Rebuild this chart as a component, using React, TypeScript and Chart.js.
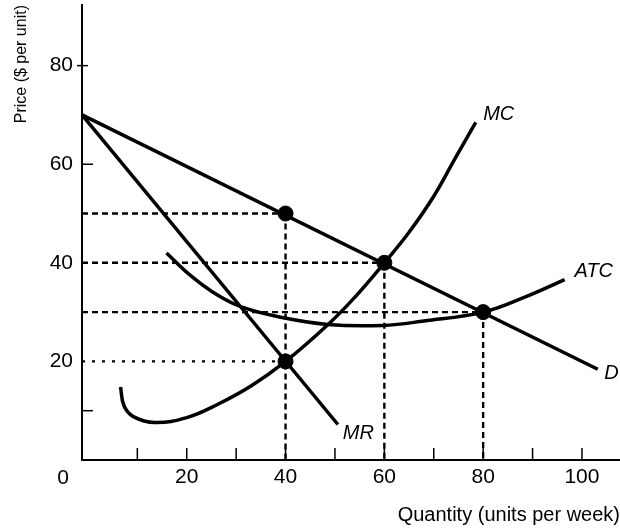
import React, { useEffect, useRef } from "react";
import { Chart, registerables } from "chart.js";

Chart.register(...registerables);

// ---- data ----
const demand = [
  { x: -1.2, y: 70 },
  { x: 103.2, y: 18.4 },
];
const marginalRevenue = [
  { x: -1.2, y: 70 },
  { x: 50.6, y: 7.2 },
];
const marginalCost = [
  { x: 6.6, y: 14.8 },
  { x: 7.3, y: 11 },
  { x: 9.2, y: 8.8 },
  { x: 13.6, y: 7.6 },
  { x: 20, y: 8.6 },
  { x: 26.3, y: 11.3 },
  { x: 33, y: 15 },
  { x: 40, y: 20 },
  { x: 48.5, y: 27.4 },
  { x: 54, y: 33 },
  { x: 60, y: 40 },
  { x: 65, y: 46.2 },
  { x: 70, y: 53.5 },
  { x: 74.5, y: 61.5 },
  { x: 78.5, y: 68.5 },
];
const averageTotalCost = [
  { x: 15.9, y: 42 },
  { x: 20.8, y: 37.4 },
  { x: 26.3, y: 33.4 },
  { x: 31.2, y: 31 },
  { x: 38.8, y: 29 },
  { x: 48.5, y: 27.5 },
  { x: 59.7, y: 27.3 },
  { x: 68, y: 28.2 },
  { x: 80, y: 30 },
  { x: 88.8, y: 33.2 },
  { x: 96.5, y: 36.6 },
];
const keyPoints = [
  { x: 40, y: 50 },
  { x: 60, y: 40 },
  { x: 80, y: 30 },
  { x: 40, y: 20 },
];
// dashed guides: horizontal from the price axis, vertical down to the quantity axis
const guidePrices = [50, 40, 30, 20];
const guideQuantities = [40, 60, 80, 40];
const verticalGuides = [
  { q: 40, p: 50 },
  { q: 60, p: 40 },
  { q: 80, p: 30 },
];

const xTickLabels = [20, 40, 60, 80, 100];
const yTickLabels = [20, 40, 60, 80];
const xTickMarks = [10, 20, 30, 40, 50, 60, 70, 80, 90, 100];
const yTickMarks = [10, 60];
const yCrossTicks = [80];

const curveLabels = [
  { text: "MC", x: 80, y: 70.2 },
  { text: "ATC", x: 98.5, y: 38.2 },
  { text: "MR", x: 51.6, y: 5.3 },
  { text: "D", x: 104.5, y: 17.6 },
];

const FONT = "'Liberation Sans', Arial, sans-serif";

const decorPlugin = {
  id: "decor",
  afterDraw(chart: any) {
    const { ctx } = chart;
    const xs = chart.scales.x;
    const ys = chart.scales.y;
    const axisX = xs.left;
    ctx.save();
    ctx.strokeStyle = "#000";
    ctx.lineWidth = 1.5;
    // x tick marks pointing up
    xTickMarks.forEach((v) => {
      const px = xs.getPixelForValue(v);
      ctx.beginPath();
      ctx.moveTo(px, xs.top);
      ctx.lineTo(px, xs.top - 12);
      ctx.stroke();
    });
    // y tick marks pointing right
    yTickMarks.forEach((v) => {
      const py = ys.getPixelForValue(v);
      ctx.beginPath();
      ctx.moveTo(axisX, py);
      ctx.lineTo(axisX + 11, py);
      ctx.stroke();
    });
    yCrossTicks.forEach((v) => {
      const py = ys.getPixelForValue(v);
      ctx.beginPath();
      ctx.moveTo(axisX - 5, py);
      ctx.lineTo(axisX + 6, py);
      ctx.stroke();
    });
    // origin label
    ctx.fillStyle = "#000";
    ctx.font = `21px ${FONT}`;
    ctx.textAlign = "center";
    ctx.textBaseline = "middle";
    ctx.fillText("0", axisX - 19, xs.top + 18);
    // curve labels
    ctx.font = `italic 20px ${FONT}`;
    ctx.textAlign = "left";
    curveLabels.forEach((l) => {
      ctx.fillText(l.text, xs.getPixelForValue(l.x), ys.getPixelForValue(l.y));
    });
    ctx.restore();
  },
};

export default function App() {
  const ref = useRef<HTMLCanvasElement | null>(null);

  useEffect(() => {
    if (!ref.current) return;
    const curve = (data: any[], tension: number) => ({
      type: "line" as const,
      data,
      borderColor: "#000",
      borderWidth: 3.5,
      pointRadius: 0,
      tension,
      fill: false,
      clip: false as any,
      order: 2,
    });
    const horizontalGuides = guidePrices.map((p, i) => ({
      type: "line" as const,
      data: [
        { x: -1.2, y: p },
        { x: guideQuantities[i], y: p },
      ],
      borderColor: "#000",
      borderWidth: 2.4,
      borderDash: p === 20 ? [3, 7] : [6, 4],
      pointRadius: 0,
      fill: false,
      order: 3,
    }));
    const vGuides = verticalGuides.map((g) => ({
      type: "line" as const,
      data: [
        { x: g.q, y: g.p },
        { x: g.q, y: 0 },
      ],
      borderColor: "#000",
      borderWidth: 2.4,
      borderDash: [6, 4],
      pointRadius: 0,
      fill: false,
      order: 3,
    }));

    const chart = new Chart(ref.current, {
      type: "line",
      data: {
        datasets: [
          {
            type: "scatter",
            data: keyPoints,
            backgroundColor: "#000",
            borderColor: "#000",
            pointRadius: 7.5,
            pointHoverRadius: 7.5,
            order: 1,
          } as any,
          curve(demand, 0),
          curve(marginalRevenue, 0),
          curve(marginalCost, 0.4),
          curve(averageTotalCost, 0.4),
          ...horizontalGuides,
          ...vGuides,
        ],
      },
      options: {
        animation: false,
        responsive: false,
        events: [],
        layout: { autoPadding: false, padding: { top: 5, right: 0, left: 0, bottom: 0 } },
        plugins: {
          legend: { display: false },
          tooltip: { enabled: false },
        },
        scales: {
          x: {
            type: "linear",
            min: -1.2,
            max: 107.7,
            afterFit: (s: any) => {
              s.height = 71;
              s.paddingLeft = 0;
              s.paddingRight = 0;
            },
            afterBuildTicks: (s: any) => {
              s.ticks = xTickLabels.map((v) => ({ value: v }));
            },
            grid: { display: false, drawTicks: false },
            border: { display: true, color: "#000", width: 2 },
            ticks: {
              color: "#000",
              font: { family: FONT, size: 21 },
              padding: 5,
              maxRotation: 0,
              autoSkip: false,
              callback: (v: any) => String(v),
            },
            title: {
              display: true,
              text: "Quantity (units per week)",
              align: "end",
              color: "#000",
              font: { family: FONT, size: 20 },
              padding: { top: 0, bottom: 4 },
            },
          },
          y: {
            type: "linear",
            min: 0,
            max: 92.3,
            afterFit: (s: any) => {
              s.width = 82;
              s.paddingTop = 0;
              s.paddingBottom = 0;
            },
            afterBuildTicks: (s: any) => {
              s.ticks = yTickLabels.map((v) => ({ value: v }));
            },
            grid: { display: false, drawTicks: false },
            border: { display: true, color: "#000", width: 2 },
            ticks: {
              color: "#000",
              font: { family: FONT, size: 21 },
              padding: 9,
              autoSkip: false,
              callback: (v: any) => String(v),
            },
            title: {
              display: true,
              text: "Price ($ per unit)",
              align: "end",
              color: "#000",
              font: { family: FONT, size: 16 },
              padding: { top: 12, bottom: 0 },
            },
          },
        },
      },
      plugins: [decorPlugin],
    } as any);
    return () => chart.destroy();
  }, []);

  return (
    <div style={{ position: "absolute", left: 0, top: 0, width: 620, height: 531, background: "#fff" }}>
      <canvas ref={ref} width={620} height={531} style={{ display: "block" }} />
    </div>
  );
}
